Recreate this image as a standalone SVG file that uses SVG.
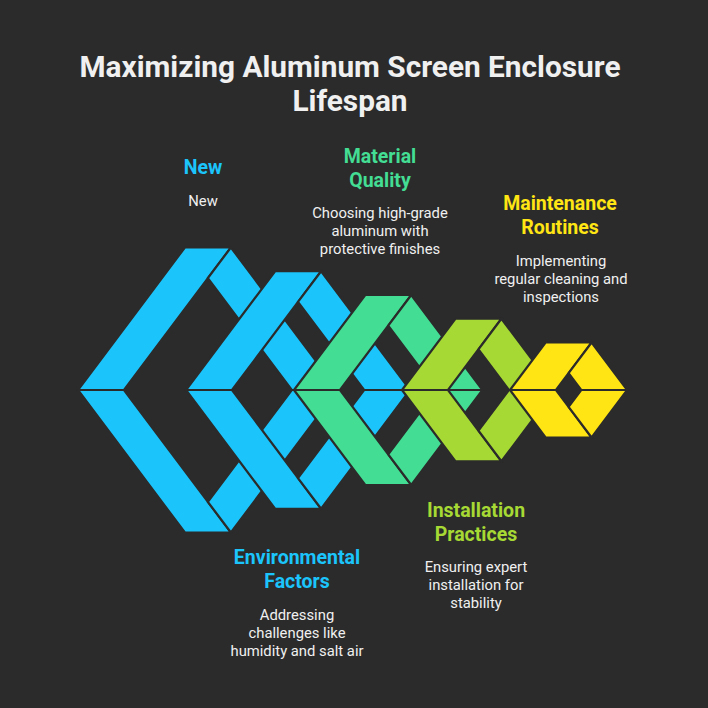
<svg xmlns="http://www.w3.org/2000/svg" width="708" height="708" viewBox="0 0 708 708">
<style>
.b{stroke:#2b2b2b;stroke-width:2.2;stroke-linejoin:miter}
.s1{fill:#1BC5FC}.s2{fill:#1BC5FC}.s3{fill:#43DD93}.s4{fill:#A6D934}.s5{fill:#FFE513}
text{font-family:Roboto,"Liberation Sans",sans-serif;text-anchor:middle}
.t{font-size:29.8px;font-weight:bold;fill:#f0f0f0}
.h{font-size:19.5px;font-weight:bold}
.d{font-size:14.8px;fill:#f0f0f0}
</style>
<rect width="708" height="708" fill="#2b2b2b"/>
<text class="t" x="350" y="77">Maximizing Aluminum Screen Enclosure</text>
<text class="t" x="350" y="111">Lifespan</text>
<g id="connectors"/>
<g id="node1" class="s1">
<polygon class="b" points="78,390 184.9,247.5 230.9,247.5 124,390"/>
<polygon class="b" points="230.9,247.5 337.8,390 291.8,390 207.9,278.1"/>
<polygon class="b" points="78,390 184.9,532.5 230.9,532.5 124,390"/>
<polygon class="b" points="230.9,532.5 337.8,390 291.8,390 207.9,501.9"/>
</g>
<g id="node2" class="s2">
<polygon class="b" points="186,390 275.1,271.25 321.1,271.25 232,390"/>
<polygon class="b" points="321.1,271.25 410.1,390 364.1,390 298,301.9"/>
<polygon class="b" points="186,390 275.1,508.75 321.1,508.75 232,390"/>
<polygon class="b" points="321.1,508.75 410.1,390 364.1,390 298,478.1"/>
</g>
<g id="node3" class="s3">
<polygon class="b" points="294,390 365.25,295 411.25,295 340,390"/>
<polygon class="b" points="411.25,295 482.5,390 436.5,390 388.25,325.7"/>
<polygon class="b" points="294,390 365.25,485 411.25,485 340,390"/>
<polygon class="b" points="411.25,485 482.5,390 436.5,390 388.25,454.3"/>
</g>
<g id="node4" class="s4">
<polygon class="b" points="402,390 455.4,318.75 501.4,318.75 448,390"/>
<polygon class="b" points="501.4,318.75 554.9,390 508.9,390 478.5,349.4"/>
<polygon class="b" points="402,390 455.4,461.25 501.4,461.25 448,390"/>
<polygon class="b" points="501.4,461.25 554.9,390 508.9,390 478.5,430.6"/>
</g>
<g id="node5" class="s5">
<polygon class="b" points="510,390 545.6,342.5 591.6,342.5 556,390"/>
<polygon class="b" points="591.6,342.5 627.2,390 581.2,390 568.6,373.2"/>
<polygon class="b" points="510,390 545.6,437.5 591.6,437.5 556,390"/>
<polygon class="b" points="591.6,437.5 627.2,390 581.2,390 568.6,406.8"/>
</g>
<g id="label-new">
<text class="h" x="203" y="174" fill="#1BC5FC">New</text>
<text class="d" x="203" y="206">New</text>
</g>
<g id="label-material">
<text class="h" x="380" y="163" fill="#43DD93">Material</text>
<text class="h" x="380" y="187" fill="#43DD93">Quality</text>
<text class="d" x="380" y="218">Choosing high-grade</text>
<text class="d" x="380" y="236">aluminum with</text>
<text class="d" x="380" y="254">protective finishes</text>
</g>
<g id="label-maintenance">
<text class="h" x="560" y="210" fill="#FFE513">Maintenance</text>
<text class="h" x="560" y="234" fill="#FFE513">Routines</text>
<text class="d" x="561" y="266">Implementing</text>
<text class="d" x="561" y="284">regular cleaning and</text>
<text class="d" x="561" y="302">inspections</text>
</g>
<g id="label-environmental">
<text class="h" x="297" y="564" fill="#1BC5FC">Environmental</text>
<text class="h" x="297" y="588" fill="#1BC5FC">Factors</text>
<text class="d" x="297" y="620">Addressing</text>
<text class="d" x="297" y="638">challenges like</text>
<text class="d" x="297" y="656">humidity and salt air</text>
</g>
<g id="label-installation">
<text class="h" x="476" y="517" fill="#A6D934">Installation</text>
<text class="h" x="476" y="541" fill="#A6D934">Practices</text>
<text class="d" x="476" y="572">Ensuring expert</text>
<text class="d" x="476" y="590">installation for</text>
<text class="d" x="476" y="608">stability</text>
</g>
</svg>
